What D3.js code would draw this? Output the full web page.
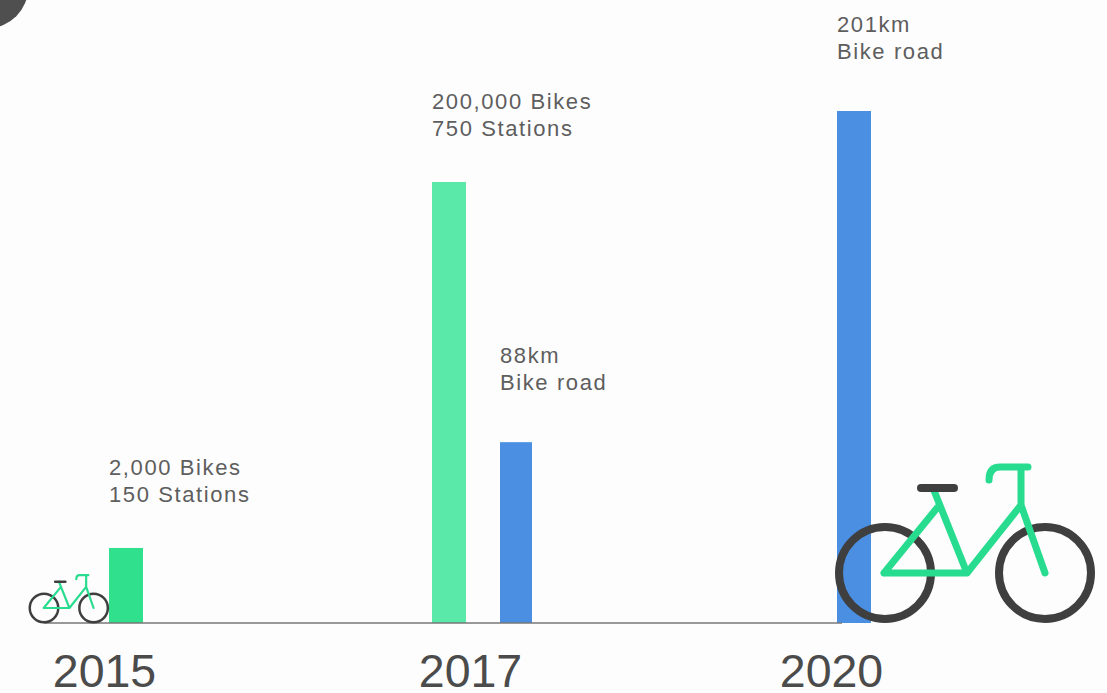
<!DOCTYPE html>
<html lang="en">
<head>
<meta charset="utf-8">
<title>Bike network growth</title>
<script src="https://cdn.jsdelivr.net/npm/d3@7/dist/d3.min.js"></script>
<style>
  html, body { margin: 0; padding: 0; background: #fdfdfd; }
  svg { display: block; }
  text { font-family: "Liberation Sans", Arial, sans-serif; }
  .note { font-size: 22px; letter-spacing: 1.6px; fill: #5e5e5e; }
  .year { font-size: 46.5px; fill: #4b4b4b; }
</style>
</head>
<body>
<svg id="chart" width="1107" height="693"></svg>
<script>
// Chart values
const years = ["2015", "2017", "2020"];
const bikeYears = ["2015", "2017"];
const bikes = [2000, 200000];
const stations = [150, 750];
const roadYears = ["2017", "2020"];
const roadKm = [88, 201];

// Layout
const width = 1107, height = 693;
const baseline = 623;
const green = { "2015": "#30e08c", "2017": "#5ae9a9" };
const blue = "#4a8fe2";
const barWidth = 34;

const svg = d3.select("#chart").attr("viewBox", [0, 0, width, height]);

// Year labels sit under irregularly spaced groups
const yearX = d3.scaleOrdinal().domain(years).range([104, 470, 831]);
// Left edges of the two bar families
const bikeX = d3.scaleOrdinal().domain(bikeYears).range([109, 432]);
const roadX = d3.scaleOrdinal().domain(roadYears).range([500, 837]);

// Neither metric starts at zero: bikes span two decades, road length is truncated
const bikeY = d3.scaleLog().domain([778, 200000]).range([baseline, 182]);
const roadY = d3.scaleLinear().domain([26.3, 201]).range([baseline, 111]);

// Dark corner badge
svg.append("circle").attr("cx", -12).attr("cy", -12).attr("r", 40).attr("fill", "#4f4f4f");

// Bike bars
svg.append("g").selectAll("rect")
  .data(bikes)
  .join("rect")
  .attr("x", (d, i) => bikeX(bikeYears[i]))
  .attr("y", d => bikeY(d))
  .attr("width", barWidth)
  .attr("height", d => baseline - bikeY(d))
  .attr("fill", (d, i) => green[bikeYears[i]]);

// Road bars
svg.append("g").selectAll("rect")
  .data(roadKm)
  .join("rect")
  .attr("x", (d, i) => roadX(roadYears[i]))
  .attr("y", d => roadY(d))
  .attr("width", (d, i) => i === 0 ? barWidth - 2 : barWidth)
  .attr("height", d => baseline - roadY(d))
  .attr("fill", blue);

// Baseline and year labels
const axis = svg.append("g")
  .attr("transform", `translate(0,${baseline})`)
  .call(d3.axisBottom(yearX).tickSize(0).tickPadding(36));
axis.select(".domain").remove();
axis.selectAll(".tick text").attr("class", "year").attr("font-size", null).attr("font-family", null)
  .attr("dy", "0.71em").attr("y", 31);
axis.insert("line", ":first-child")
  .attr("x1", 44).attr("x2", 842)
  .attr("stroke", "#777").attr("stroke-width", 1.6);

// Two-line notes above the bars
function note(x, y, first, second) {
  const t = svg.append("text").attr("class", "note").attr("x", x).attr("y", y);
  t.append("tspan").attr("x", x).attr("dy", 0).text(first);
  t.append("tspan").attr("x", x).attr("dy", 27).text(second);
}
const fmt = d3.format(",");
bikes.forEach((d, i) => {
  note(bikeX(bikeYears[i]), bikeY(d) - 73, `${fmt(d)} Bikes`, `${stations[i]} Stations`);
});
roadKm.forEach((d, i) => {
  note(roadX(roadYears[i]), roadY(d) - 79, `${d}km`, "Bike road");
});

// Bicycle glyph, drawn around its rear axle in a 160-unit wheelbase
function drawBike(cx, cy, s) {
  const g = svg.append("g").attr("transform", `translate(${cx},${cy}) scale(${s})`)
    .attr("fill", "none").attr("stroke-linecap", "round").attr("stroke-linejoin", "round");
  const dark = "#3f3f3f", frame = "#27dc8e";
  [0, 160].forEach(wx => {
    g.append("circle").attr("cx", wx).attr("cy", 0).attr("r", 46)
      .attr("stroke", dark).attr("stroke-width", 8);
  });

  const p = d3.path();
  p.moveTo(-1, 0); p.lineTo(82, 0); p.lineTo(136, -68);
  p.moveTo(-1, 0); p.lineTo(52, -65);
  p.moveTo(48, -85); p.lineTo(82, 0);
  p.moveTo(160, 0); p.lineTo(136, -68); p.lineTo(136, -106);
  p.moveTo(143, -106); p.lineTo(115, -106);
  p.quadraticCurveTo(104, -106, 104, -93);
  g.append("path").attr("d", p.toString()).attr("stroke", frame).attr("stroke-width", 7);

  // Saddle goes on top of the seat tube
  g.append("line").attr("x1", 36).attr("x2", 69).attr("y1", -85).attr("y2", -85)
    .attr("stroke", dark).attr("stroke-width", 8);
}
drawBike(885, 573, 1);
drawBike(44, 608, 0.31);
</script>
</body>
</html>
